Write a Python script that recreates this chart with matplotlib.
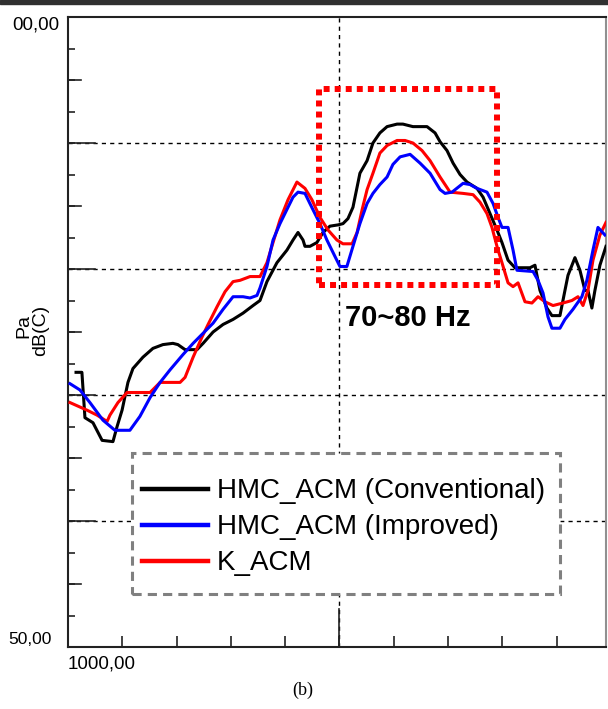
import matplotlib
matplotlib.use("Agg")
import matplotlib.pyplot as plt
from matplotlib.patches import Rectangle
from matplotlib.lines import Line2D

plt.rcParams['font.family'] = ['Liberation Sans', 'DejaVu Sans']

# engine speed [rpm] and level [dB(C)]
rpm_conv = [787, 814, 828, 865, 907, 957, 976, 999, 1026, 1049, 1095, 1141, 1187, 1233, 1256,
            1289, 1344, 1372, 1418, 1464, 1510, 1556, 1602, 1634, 1666, 1712, 1758, 1786, 1809,
            1832, 1841, 1864, 1896, 1924, 1956, 1993, 2016, 2039, 2062, 2081, 2094, 2127, 2154,
            2186, 2219, 2265, 2292, 2338, 2403, 2440, 2463, 2495, 2523, 2555, 2587, 2633, 2661,
            2693, 2725, 2748, 2776, 2808, 2877, 2900, 2909, 2923, 2955, 2978, 3015, 3038, 3052,
            3084, 3107, 3130, 3144, 3162, 3176, 3199, 3227]
db_conv = [71.8, 71.8, 68.2, 67.8, 66.4, 66.3, 67.5, 68.8, 71.0, 72.1, 73.0, 73.7, 74.0, 74.1, 74.0,
           73.6, 73.6, 74.1, 75.0, 75.6, 76.0, 76.5, 77.1, 77.5, 79.0, 80.5, 81.5, 82.3, 82.9,
           82.3, 81.8, 81.8, 82.1, 82.9, 83.4, 83.5, 83.6, 84.0, 84.9, 86.5, 87.6, 88.6, 90.0,
           90.8, 91.3, 91.5, 91.5, 91.3, 91.3, 90.8, 90.1, 89.4, 88.4, 87.5, 86.9, 86.4, 85.7,
           84.4, 83.1, 82.1, 80.7, 80.1, 80.1, 80.3, 79.5, 78.3, 76.9, 76.3, 76.3, 78.3, 79.5,
           80.9, 79.9, 78.3, 78.3, 76.9, 78.3, 80.3, 81.8]

rpm_impr = [759, 805, 851, 911, 966, 1035, 1081, 1128, 1174, 1220, 1279, 1326, 1372, 1418, 1464,
            1510, 1556, 1588, 1620, 1634, 1666, 1694, 1726, 1763, 1786, 1809, 1841, 1878, 1910,
            1942, 1979, 2002, 2034, 2062, 2094, 2127, 2154, 2186, 2219, 2246, 2279, 2325, 2371,
            2417, 2463, 2486, 2518, 2569, 2601, 2633, 2679, 2707, 2730, 2748, 2776, 2799, 2817,
            2891, 2914, 2937, 2960, 2978, 3015, 3038, 3075, 3116, 3139, 3167, 3190, 3222]
db_impr = [70.9, 70.4, 69.4, 68.0, 67.2, 67.2, 68.3, 69.8, 71.0, 72.0, 73.2, 74.1, 74.9, 75.7, 76.8,
           77.8, 77.8, 77.7, 77.9, 78.5, 80.2, 82.3, 83.6, 84.9, 85.7, 86.1, 86.0, 84.7, 83.6,
           82.3, 81.0, 80.2, 80.2, 81.8, 83.6, 85.2, 86.0, 86.7, 87.3, 88.3, 88.9, 89.1, 88.4,
           87.6, 86.3, 86.0, 86.1, 86.8, 86.7, 86.4, 86.1, 85.2, 84.1, 83.3, 83.3, 81.5, 79.9,
           79.8, 79.1, 78.1, 76.2, 75.3, 75.3, 76.0, 76.8, 77.8, 79.1, 81.5, 83.3, 82.7]

rpm_k = [759, 837, 884, 930, 943, 980, 1022, 1049, 1128, 1174, 1266, 1289, 1326, 1367, 1395,
         1436, 1473, 1510, 1542, 1588, 1634, 1666, 1694, 1726, 1763, 1804, 1841, 1873, 1910,
         1947, 1988, 2016, 2058, 2081, 2104, 2127, 2154, 2186, 2219, 2265, 2302, 2338, 2380,
         2417, 2463, 2509, 2569, 2615, 2647, 2679, 2702, 2725, 2748, 2776, 2799, 2822, 2854,
         2886, 2914, 2946, 2983, 3029, 3070, 3098, 3121, 3144, 3167, 3199, 3227]
db_k = [69.4, 68.8, 68.4, 67.9, 68.4, 69.4, 70.2, 70.2, 70.2, 71.0, 71.0, 71.4, 73.0, 74.6, 75.6,
        77.0, 78.2, 79.0, 79.1, 79.4, 79.4, 80.5, 82.1, 83.9, 85.5, 86.9, 86.4, 85.5, 84.1,
        83.1, 82.3, 82.0, 82.0, 82.9, 84.7, 86.3, 87.6, 89.2, 89.8, 90.2, 90.2, 90.0, 89.4,
        88.6, 87.3, 86.1, 86.0, 85.9, 85.3, 84.4, 83.3, 81.8, 80.5, 78.9, 78.6, 78.9, 77.4,
        77.3, 77.8, 77.4, 77.1, 77.3, 77.5, 77.8, 77.1, 78.3, 80.7, 82.7, 83.7]

series_names = ['HMC_ACM (Conventional)', 'HMC_ACM (Improved)', 'K_ACM']
series_colors = ['#000000', '#0000ff', '#ff0000']

x_min, x_max = 750, 3227
y_min, y_max = 50, 100
zone = (1906, 2725, 78.7, 94.3)   # rpm from, rpm to, dB from, dB to

fig = plt.figure(figsize=(6.08, 7.09), dpi=100)
ax = fig.add_axes([68/608, 62/709, 538/608, 630/709])

# dark strip along the very top of the screenshot
fig.patches.append(Rectangle((0, 1 - 4/709), 1, 4/709, transform=fig.transFigure,
                             color='#303030', zorder=0))

ax.set_xlim(x_min, x_max)
ax.set_ylim(y_min, y_max)

for y in [60, 70, 80, 90]:
    ax.axhline(y, color='black', lw=1.0, ls=(0, (3, 3)), zorder=1)
ax.axvline(2000, color='black', lw=1.0, ls=(0, (3, 3)), zorder=1)

ax.plot(rpm_conv, db_conv, color=series_colors[0], lw=2.2, zorder=3)
ax.plot(rpm_k, db_k, color=series_colors[2], lw=2.2, zorder=4)
ax.plot(rpm_impr, db_impr, color=series_colors[1], lw=2.2, zorder=5)

# ticks: all inward, no labels
ax.set_xticks([1000 + 250*i for i in range(9)])
ax.set_yticks([52.5 + 2.5*i for i in range(19)])
ax.tick_params(axis='y', direction='in', length=5, width=1.2, color='#222222', labelleft=False)
ax.tick_params(axis='x', direction='in', length=8, width=1.2, color='#222222', labelbottom=False)
for y in [55, 65, 75, 85, 95]:
    ax.plot([0, 0.025], [y, y], transform=ax.get_yaxis_transform(), color='#222222', lw=1.2)
for y in [60, 70, 80, 90]:
    ax.plot([0, 0.05], [y, y], transform=ax.get_yaxis_transform(), color='#222222', lw=1.2)
ax.plot([2000, 2000], [0, 0.06], transform=ax.get_xaxis_transform(), color='#222222', lw=1.2)

for side in ['left', 'bottom', 'top']:
    ax.spines[side].set_color('#222222')
    ax.spines[side].set_linewidth(1.5)
ax.spines['right'].set_color('#909090')
ax.spines['right'].set_linewidth(1.5)

# axis texts as in the analyser screenshot (top label is cut off there)
ax.text(-0.016, 0.988, '00,00', transform=ax.transAxes, ha='right', va='center', fontsize=13.5)
ax.text(-0.03, 0.012, '50,00', transform=ax.transAxes, ha='right', va='center', fontsize=12.5)
ax.text(0.0, -0.013, '1000,00', transform=ax.transAxes, ha='left', va='top', fontsize=13.5)
fig.text(24/608, 1 - 326/709, 'Pa', rotation=90, ha='center', va='center', fontsize=14)
fig.text(41/608, 1 - 330/709, 'dB(C)', rotation=90, ha='center', va='center', fontsize=14)
fig.text(303/608, 1 - 690/709, '(b)', ha='center', va='center', fontsize=13,
         family=['Liberation Serif', 'DejaVu Serif'])

# highlighted frequency zone
ax.add_patch(Rectangle((zone[0], zone[2]), zone[1] - zone[0], zone[3] - zone[2],
                       fill=False, edgecolor='#ff0000', lw=4.3, ls=(0, (1, 0.85)), zorder=6))
ax.text(2025, 76.1, '70~80 Hz', ha='left', va='center', fontsize=21, fontweight='bold', zorder=6)

# legend with dashed grey frame on white
ax.add_patch(Rectangle((0.119, 0.084), 0.795, 0.224, transform=ax.transAxes,
                       facecolor='white', edgecolor='#808080', lw=2.2, ls=(0, (3, 2)),
                       zorder=7))
handles = [Line2D([], [], color=c, lw=3.2) for c in series_colors]
leg = ax.legend(handles, series_names, loc='center left', bbox_to_anchor=(0.137, 0.19),
                frameon=False, fontsize=20, handlelength=2.4, handletextpad=0.3,
                labelspacing=0.36, borderpad=0, borderaxespad=0)
leg.set_zorder(8)

fig.savefig('out.png', dpi=100)
